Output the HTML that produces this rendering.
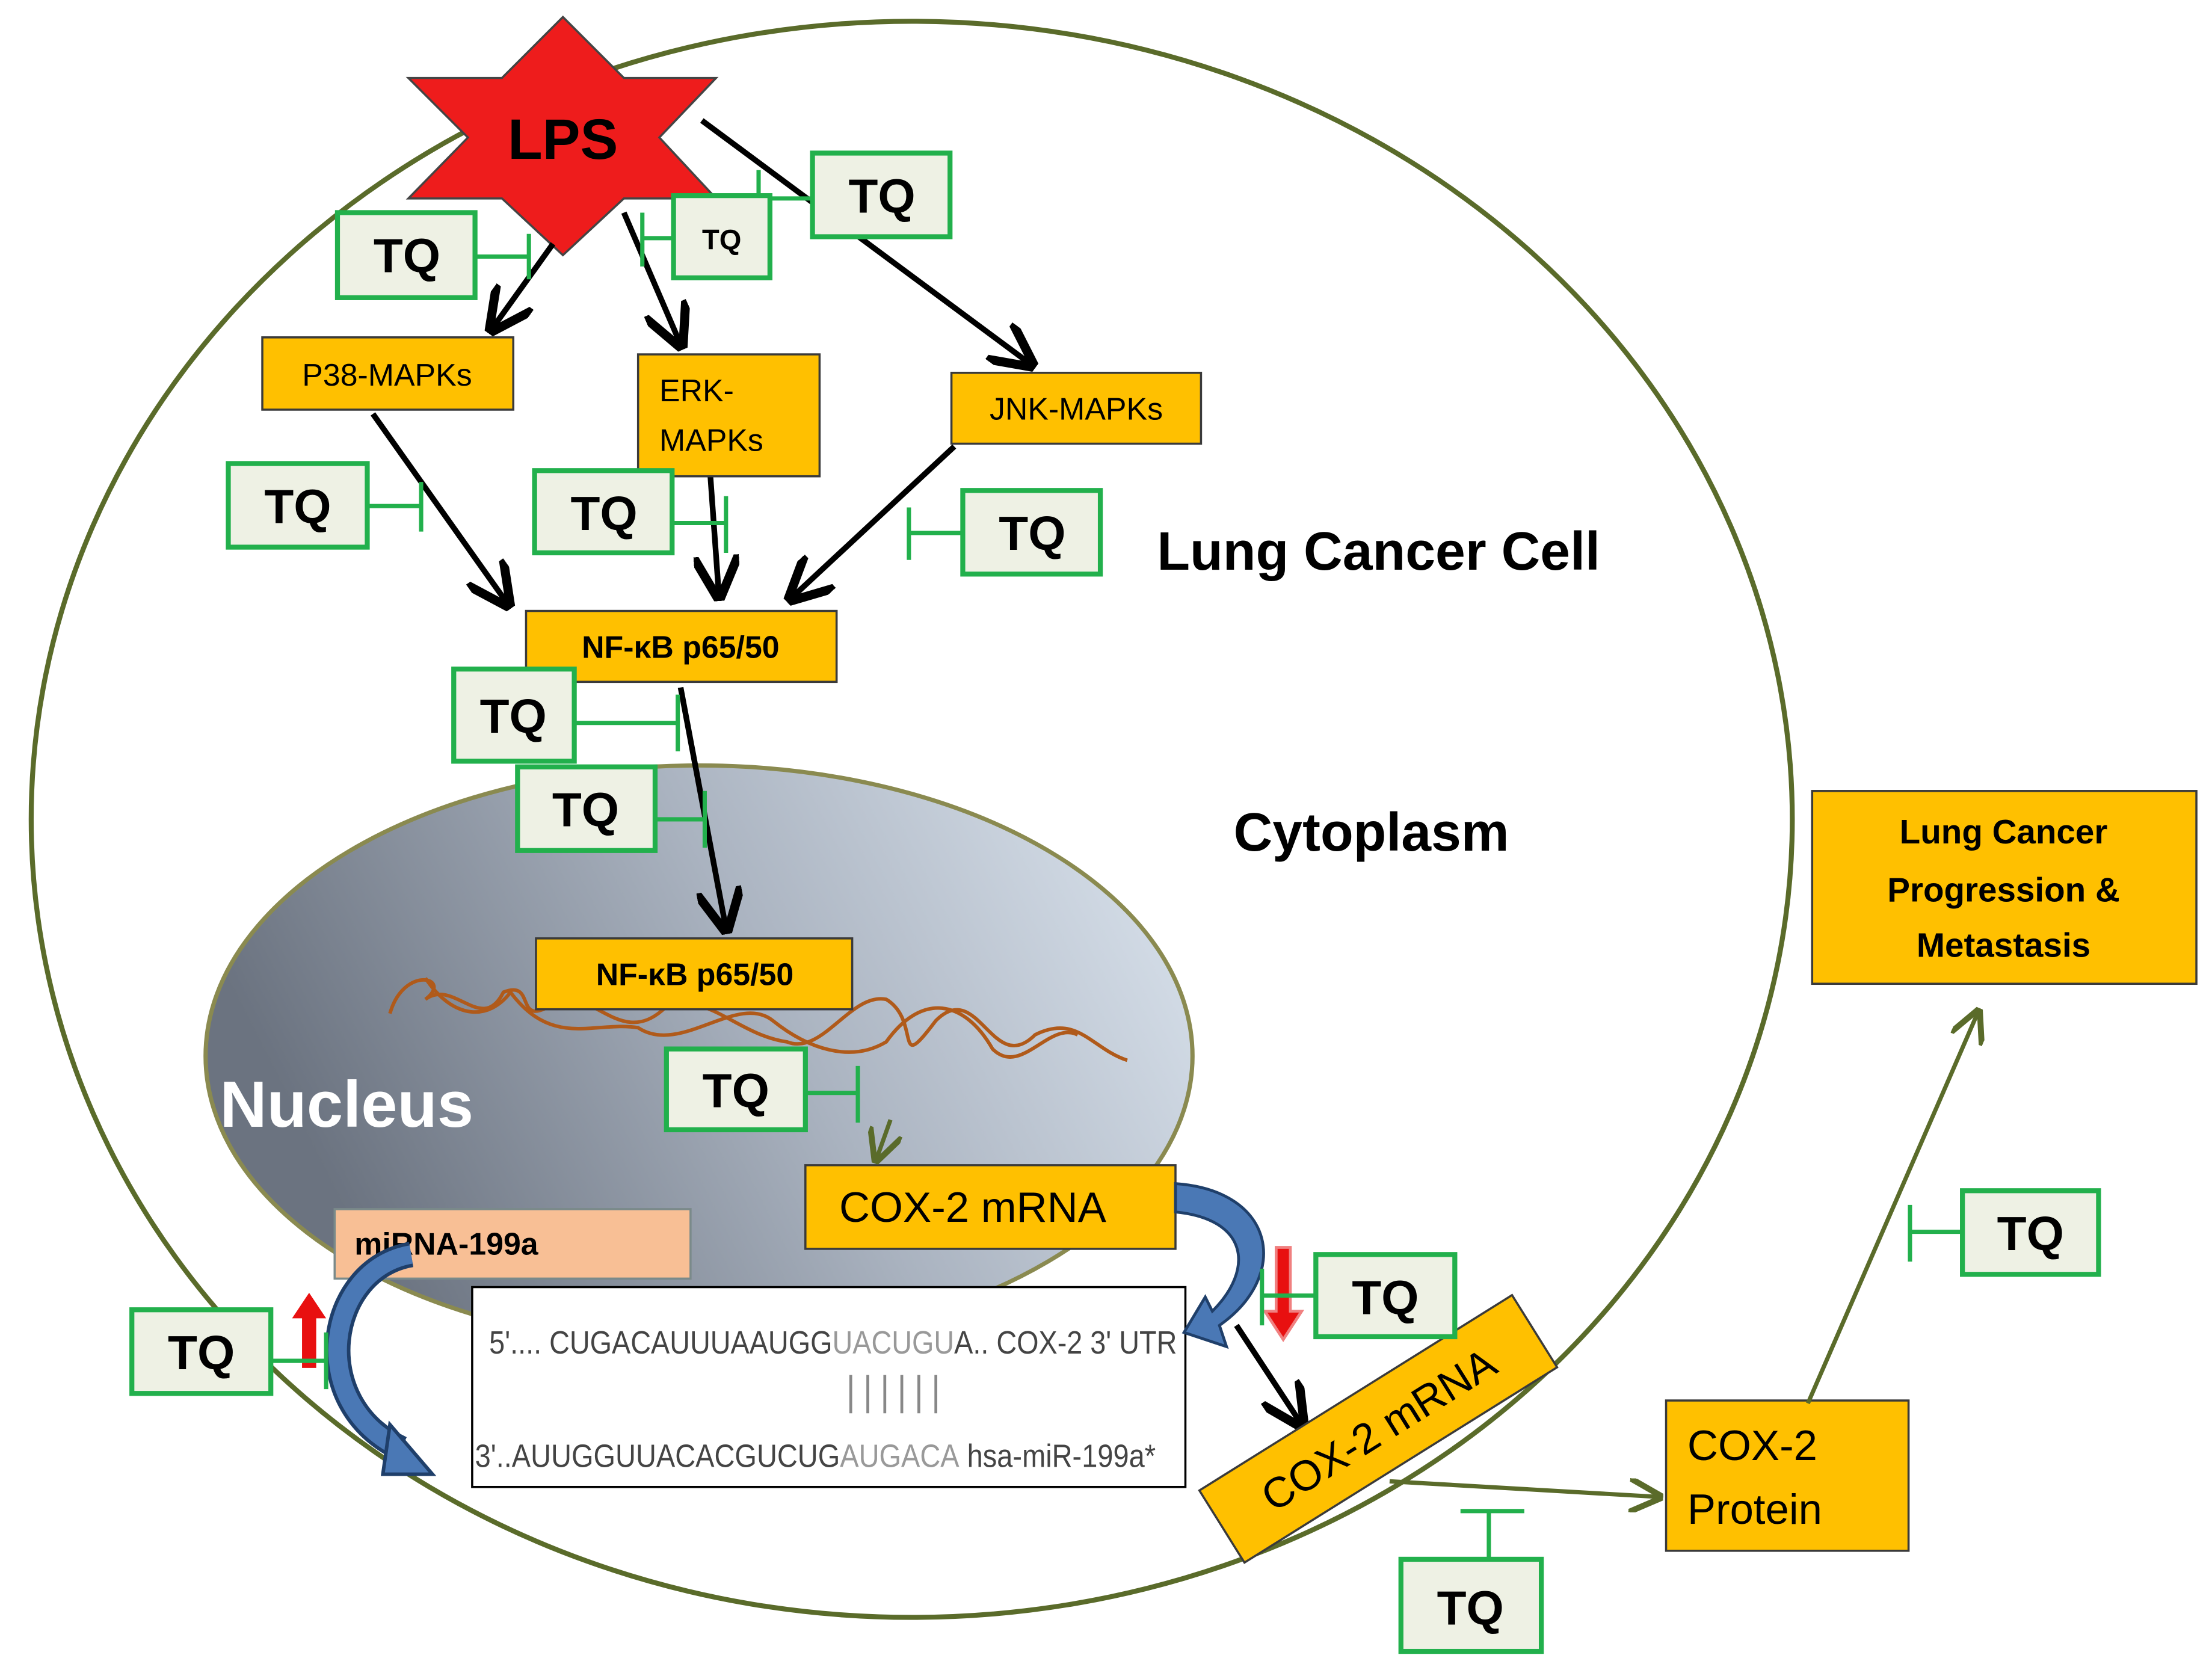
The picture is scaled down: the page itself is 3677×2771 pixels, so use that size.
<!DOCTYPE html>
<html><head><meta charset="utf-8"><style>
html,body{margin:0;padding:0;background:#fff;}
svg{display:block;}
text{font-family:"Liberation Sans",sans-serif;}
.tq rect{fill:#eef1e4;stroke:#22b04c;stroke-width:3.5;}
.tq text{font-weight:bold;font-size:34px;fill:#000;text-anchor:middle;}
.inh{stroke:#22b04c;stroke-width:3;fill:none;}
.or{fill:#ffc000;stroke:#3a3a3a;stroke-width:1.5;}
.blk{stroke:#000;stroke-width:4;fill:none;marker-end:url(#ab);}
.grn{stroke:#5a6b2a;stroke-width:3;fill:none;marker-end:url(#ag);}
</style></head><body>
<svg width="3677" height="2771" viewBox="0 0 1560 1176" preserveAspectRatio="none" xmlns="http://www.w3.org/2000/svg">
<defs>
<marker id="ab" markerWidth="8" markerHeight="8" refX="7" refY="4" orient="auto" markerUnits="strokeWidth"><path d="M0,0 L8,4 L0,8" fill="none" stroke="#000" stroke-width="1.6"/></marker>
<marker id="ag" markerWidth="8" markerHeight="8" refX="7" refY="4" orient="auto" markerUnits="strokeWidth"><path d="M0,0 L8,4 L0,8" fill="none" stroke="#5a6b2a" stroke-width="1.4"/></marker>
<linearGradient id="ng" x1="0" y1="0.3" x2="1" y2="0"><stop offset="0" stop-color="#6b7380"/><stop offset="0.5" stop-color="#aab3c0"/><stop offset="1" stop-color="#dde6f0"/></linearGradient>
</defs>
<ellipse cx="643" cy="578" rx="621" ry="563" fill="#fff" stroke="#5a6b2a" stroke-width="3.5"/>
<ellipse cx="493" cy="745" rx="348" ry="205" fill="url(#ng)" stroke="#8a8a50" stroke-width="3"/>
<path d="M275,715 C285,680 320,690 300,705 C320,690 340,730 355,700 C380,690 360,730 395,705 C420,700 440,740 470,710 C500,700 520,730 555,735 C580,745 600,700 625,705 C650,720 630,760 660,720 C690,690 700,760 730,730 C760,715 770,740 795,748 M300,690 C320,720 345,720 360,700 C390,740 420,720 450,725 C480,745 520,700 545,720 C570,740 600,750 625,735 C650,700 680,705 700,740 C720,760 740,720 760,730" fill="none" stroke="#b05a1a" stroke-width="2.5"/>
<text x="155" y="795" font-size="46" font-weight="bold" fill="#fff">Nucleus</text>
<text x="816" y="402" font-size="38" font-weight="bold">Lung Cancer Cell</text>
<text x="870" y="600" font-size="38" font-weight="bold">Cytoplasm</text>
<polygon points="397,12 440,55 505,55 465,97 505,140 440,140 397,180 354,140 288,140 330,97 288,55 354,55" fill="#ee1c1c" stroke="#444" stroke-width="1.5"/>
<text x="397" y="112" font-size="40" font-weight="bold" text-anchor="middle">LPS</text>
<line class="blk" x1="390" y1="172" x2="347" y2="232"/>
<line class="blk" x1="440" y1="150" x2="480" y2="243"/>
<line class="blk" x1="495" y1="85" x2="727" y2="257"/>
<line class="blk" x1="263" y1="292" x2="358" y2="426"/>
<line class="blk" x1="500" y1="322" x2="507" y2="420"/>
<line class="blk" x1="673" y1="315" x2="558" y2="422"/>
<line class="blk" x1="480" y1="485" x2="512" y2="655"/>
<line class="blk" x1="872" y1="935" x2="918" y2="1005"/>
<rect class="or" x="185" y="238" width="177" height="51"/><text x="273" y="272" font-size="22" text-anchor="middle">P38-MAPKs</text>
<rect class="or" x="450" y="250" width="128" height="86"/><text x="465" y="283" font-size="22">ERK-</text><text x="465" y="318" font-size="22">MAPKs</text>
<rect class="or" x="671" y="263" width="176" height="50"/><text x="759" y="296" font-size="22" text-anchor="middle">JNK-MAPKs</text>
<rect class="or" x="371" y="431" width="219" height="50"/><text x="480" y="464" font-size="22" font-weight="bold" text-anchor="middle">NF-κB p65/50</text>
<rect class="or" x="378" y="662" width="223" height="50"/><text x="490" y="695" font-size="22" font-weight="bold" text-anchor="middle">NF-κB p65/50</text>
<rect class="or" x="568" y="822" width="261" height="59"/><text x="686" y="862" font-size="30" text-anchor="middle">COX-2 mRNA</text>
<rect class="or" x="1278" y="558" width="271" height="136"/><text x="1413" y="595" font-size="24" font-weight="bold" text-anchor="middle">Lung Cancer</text><text x="1413" y="636" font-size="24" font-weight="bold" text-anchor="middle">Progression &amp;</text><text x="1413" y="675" font-size="24" font-weight="bold" text-anchor="middle">Metastasis</text>
<rect class="or" x="1175" y="988" width="171" height="106"/><text x="1190" y="1030" font-size="30">COX-2</text><text x="1190" y="1075" font-size="30">Protein</text>
<g transform="translate(972,1008) rotate(-32)"><rect class="or" x="-130" y="-30" width="260" height="60"/><text x="0" y="11" font-size="30" text-anchor="middle">COX-2 mRNA</text></g>
<rect x="236" y="853" width="251" height="49" fill="#f8bf95" stroke="#7a8a8a" stroke-width="1.5"/><text x="250" y="885" font-size="22" font-weight="bold">miRNA-199a</text>
<rect x="333" y="908" width="503" height="141" fill="#fff" stroke="#000" stroke-width="1.5"/>
<text x="345" y="955" font-size="23" fill="#444" textLength="485" lengthAdjust="spacingAndGlyphs">5'.... CUGACAUUUAAUGG<tspan fill="#999">UACUGU</tspan>A.. COX-2  3' UTR</text>
<g stroke="#888" stroke-width="2"><line x1="600" y1="970" x2="600" y2="997"/><line x1="612" y1="970" x2="612" y2="997"/><line x1="624" y1="970" x2="624" y2="997"/><line x1="636" y1="970" x2="636" y2="997"/><line x1="648" y1="970" x2="648" y2="997"/><line x1="660" y1="970" x2="660" y2="997"/></g>
<text x="335" y="1035" font-size="23" fill="#444" textLength="480" lengthAdjust="spacingAndGlyphs">3'..AUUGGUUACACGUCUG<tspan fill="#999">AUGACA</tspan>    hsa-miR-199a*</text>
<path d="M628,790 L618,818" class="grn"/>
<path d="M980,1045 L1170,1056" class="grn"/>
<path d="M1275,990 L1395,714" class="grn"/>
<path d="M290,885 C230,895 215,990 283,1022" fill="none" stroke="#1f3f6a" stroke-width="18"/>
<path d="M290,885 C230,895 215,990 283,1022" fill="none" stroke="#4a78b5" stroke-width="13"/>
<polygon points="275,1005 305,1040 270,1040" fill="#4a78b5" stroke="#1f3f6a" stroke-width="2.5"/>
<path d="M829,835 C900,840 910,900 860,935 L865,950 L835,940 L850,915 L855,925 C885,895 880,860 829,855 Z" fill="#4a78b5" stroke="#1f3f6a" stroke-width="2"/>
<path d="M213,965 L213,930 L206,930 L218,912 L230,930 L223,930 L223,965 Z" fill="#e81010"/>
<path d="M900,880 L910,880 L910,925 L918,925 L905,945 L892,925 L900,925 Z" fill="#e81010" stroke="#f08080" stroke-width="2"/>
<g class="inh">
<path d="M335,181 H373 M373,165 V197"/>
<path d="M475,168 H453 M453,150 V188"/>
<path d="M573,140 H535 M535,120 V155"/>
<path d="M259,357 H297 M297,340 V375"/>
<path d="M474,369 H512 M512,350 V390"/>
<path d="M679,376 H641 M641,358 V395"/>
<path d="M405,510 H478 M478,490 V530"/>
<path d="M462,578 H497 M497,558 V598"/>
<path d="M568,771 H605 M605,752 V792"/>
<path d="M928,914 H890 M890,895 V935"/>
<path d="M191,960 H230 M230,940 V980"/>
<path d="M1384,869 H1347 M1347,850 V890"/>
<path d="M1050,1100 V1066 M1030,1066 H1075"/>
</g>
<g class="tq">
<rect x="238" y="150" width="97" height="60"/><text x="287" y="192">TQ</text>
<rect x="475" y="138" width="68" height="58"/><text x="509" y="176" style="font-size:20px">TQ</text>
<rect x="573" y="108" width="97" height="59"/><text x="622" y="150">TQ</text>
<rect x="161" y="327" width="98" height="59"/><text x="210" y="369">TQ</text>
<rect x="377" y="332" width="97" height="58"/><text x="426" y="374">TQ</text>
<rect x="679" y="346" width="97" height="59"/><text x="728" y="388">TQ</text>
<rect x="320" y="472" width="85" height="65"/><text x="362" y="517">TQ</text>
<rect x="365" y="541" width="97" height="59"/><text x="413" y="583">TQ</text>
<rect x="470" y="740" width="98" height="57"/><text x="519" y="781">TQ</text>
<rect x="928" y="885" width="98" height="58"/><text x="977" y="927">TQ</text>
<rect x="93" y="924" width="98" height="59"/><text x="142" y="966">TQ</text>
<rect x="1384" y="840" width="96" height="59"/><text x="1432" y="882">TQ</text>
<rect x="988" y="1100" width="99" height="65"/><text x="1037" y="1146">TQ</text>
</g>
</svg>
</body></html>
